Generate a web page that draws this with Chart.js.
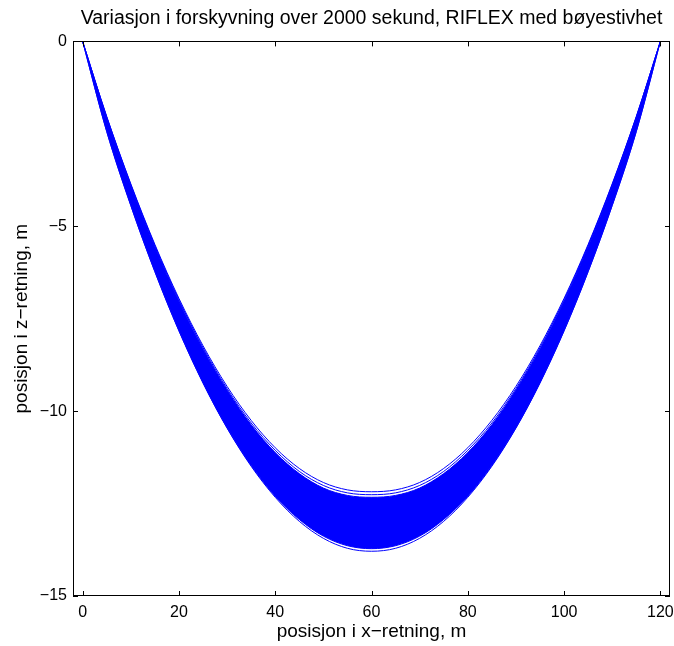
<!DOCTYPE html>
<html>
<head>
<meta charset="utf-8">
<script src="https://cdn.jsdelivr.net/npm/chart.js@4.4.1/dist/chart.umd.min.js"></script>
<style>
  body { margin: 0; background: #ffffff; }
  #wrap { width: 674px; height: 646px; }
</style>
</head>
<body>
<div id="wrap"><canvas id="myChart" width="674" height="646"></canvas></div>
<script>
// x positions along the riser (m)
var xPos = [0, 5, 10, 15, 20, 25, 30, 35, 40, 45, 50, 55, 60, 65, 70, 75, 80, 85, 90, 95, 100, 105, 110, 115, 120];

// vertical position (m) of the snapshots
// innermost (least sag) line
var zInner = [0, -2.03, -3.85, -5.49, -6.95, -8.23, -9.33, -10.25, -10.99, -11.55, -11.93, -12.13, -12.18, -12.13, -11.93, -11.55, -10.99, -10.25, -9.33, -8.23, -6.95, -5.49, -3.85, -2.03, 0];
// second line just under it
var zInner2 = [0, -2.04, -3.87, -5.52, -6.99, -8.28, -9.39, -10.32, -11.06, -11.63, -12.01, -12.21, -12.26, -12.21, -12.01, -11.63, -11.06, -10.32, -9.39, -8.28, -6.99, -5.52, -3.87, -2.04, 0];
// top of the dense band
var zBandTop = [0, -2.05, -3.89, -5.55, -7.03, -8.32, -9.43, -10.37, -11.12, -11.69, -12.08, -12.28, -12.33, -12.28, -12.08, -11.69, -11.12, -10.37, -9.43, -8.32, -7.03, -5.55, -3.89, -2.05, 0];
// bottom of the dense band
var zBandBottom = [0, -2.43, -4.43, -6.22, -7.82, -9.23, -10.45, -11.47, -12.3, -12.93, -13.38, -13.64, -13.72, -13.64, -13.38, -12.93, -12.3, -11.47, -10.45, -9.23, -7.82, -6.22, -4.43, -2.43, 0];
// outermost (most sag) line
var zOuter = [0, -2.44, -4.44, -6.23, -7.83, -9.24, -10.46, -11.49, -12.33, -12.98, -13.44, -13.71, -13.79, -13.71, -13.44, -12.98, -12.33, -11.49, -10.46, -9.24, -7.83, -6.23, -4.44, -2.44, 0];

var xTicks = [0, 20, 40, 60, 80, 100, 120];
var yTicks = [-15, -10, -5, 0];

var blue = '#0000ff';
var fontFam = '"Liberation Sans", Arial, Helvetica, sans-serif';

function toPoints(zs) {
    var pts = [];
    for (var i = 0; i < xPos.length; i++) {
        pts.push({ x: xPos[i], y: zs[i] });
    }
    return pts;
}

function lineSet(zs, fill) {
    return {
        data: toPoints(zs),
        borderColor: blue,
        backgroundColor: blue,
        borderWidth: 1,
        pointRadius: 0,
        cubicInterpolationMode: 'monotone',
        fill: fill
    };
}

function minusSign(v) {
    return String(v).replace('-', '\u2212');
}

// box round the axes with inward ticks, like matlab
var boxPlugin = {
    id: 'boxPlugin',
    afterDraw: function(chart) {
        var ctx = chart.ctx;
        var a = chart.chartArea;
        var xs = chart.scales.x;
        var ys = chart.scales.y;
        var len = 5;
        ctx.save();
        ctx.strokeStyle = '#000000';
        ctx.lineWidth = 1;
        ctx.strokeRect(Math.round(a.left) + 0.5, Math.round(a.top) + 0.5, Math.round(a.right - a.left) - 1, Math.round(a.bottom - a.top) - 1);
        ctx.beginPath();
        xTicks.forEach(function(v) {
            var px = Math.round(xs.getPixelForValue(v)) + 0.5;
            ctx.moveTo(px, a.bottom);
            ctx.lineTo(px, a.bottom - len);
            ctx.moveTo(px, a.top);
            ctx.lineTo(px, a.top + len);
        });
        yTicks.forEach(function(v) {
            var py = Math.round(ys.getPixelForValue(v)) + 0.5;
            ctx.moveTo(a.left, py);
            ctx.lineTo(a.left + len, py);
            ctx.moveTo(a.right, py);
            ctx.lineTo(a.right - len, py);
        });
        ctx.stroke();
        ctx.restore();
    }
};

var myChart;

function drawChart() {
    var ctx = document.getElementById('myChart');
    myChart = new Chart(ctx, {
        type: 'line',
        data: {
            datasets: [
                lineSet(zInner, false),
                lineSet(zInner2, false),
                lineSet(zBandTop, false),
                lineSet(zBandBottom, '-1'),
                lineSet(zOuter, false)
            ]
        },
        options: {
            responsive: false,
            animation: false,
            devicePixelRatio: 1,
            layout: { padding: { left: 0, right: 4, top: 0, bottom: 0 } },
            plugins: {
                legend: { display: false },
                tooltip: { enabled: false },
                title: {
                    display: true,
                    fullSize: false,
                    text: 'Variasjon i forskyvning over 2000 sekund, RIFLEX med bøyestivhet',
                    color: '#000000',
                    font: { family: fontFam, size: 19.5, weight: 'normal' },
                    padding: { top: 7, bottom: 11 }
                }
            },
            scales: {
                x: {
                    type: 'linear',
                    min: -2,
                    max: 122,
                    afterFit: function(scale) {
                        scale.height = 50;
                        scale.paddingLeft = 0;
                        scale.paddingRight = 0;
                    },
                    afterBuildTicks: function(scale) {
                        scale.ticks = xTicks.map(function(v) { return { value: v }; });
                    },
                    grid: { display: false, drawTicks: false },
                    border: { display: false },
                    ticks: {
                        color: '#000000',
                        font: { family: fontFam, size: 16 },
                        padding: 7,
                        maxRotation: 0,
                        callback: minusSign
                    },
                    title: {
                        display: true,
                        text: 'posisjon i x\u2212retning, m',
                        color: '#000000',
                        font: { family: fontFam, size: 19 },
                        padding: { top: 0, bottom: 3 }
                    }
                },
                y: {
                    type: 'linear',
                    min: -15,
                    max: 0,
                    afterFit: function(scale) { scale.width = 73; },
                    afterBuildTicks: function(scale) {
                        scale.ticks = yTicks.map(function(v) { return { value: v }; });
                    },
                    grid: { display: false, drawTicks: false },
                    border: { display: false },
                    ticks: {
                        color: '#000000',
                        font: { family: fontFam, size: 16 },
                        padding: 6,
                        callback: minusSign
                    },
                    title: {
                        display: true,
                        text: 'posisjon i z\u2212retning, m',
                        color: '#000000',
                        font: { family: fontFam, size: 19 },
                        padding: { top: 10, bottom: 0 }
                    }
                }
            }
        },
        plugins: [boxPlugin]
    });
}

drawChart();
</script>
</body>
</html>
